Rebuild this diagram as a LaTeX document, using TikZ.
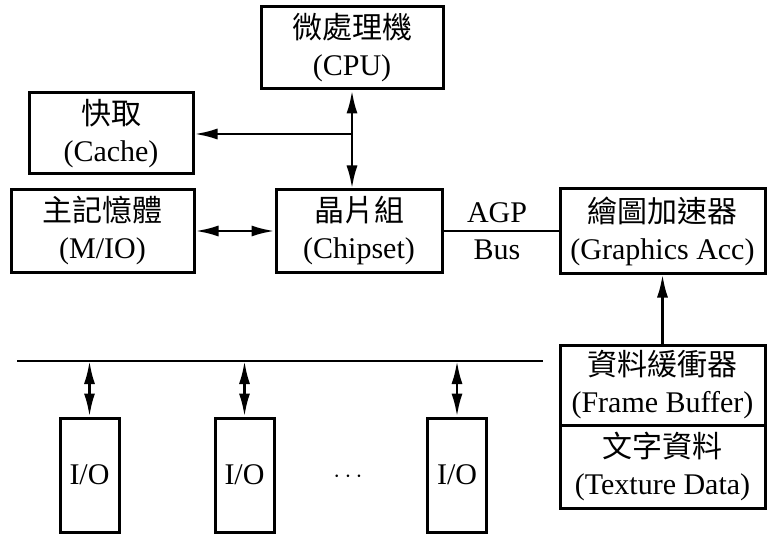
\documentclass[tikz,border=0pt]{standalone}
\usepackage{fontspec}
\setmainfont{Liberation Serif}
\newfontfamily\cjk{Noto Sans CJK TC}
\usetikzlibrary{arrows.meta}
\pgfdeclarelayer{edgelayer}
\pgfdeclarelayer{nodelayer}
\pgfsetlayers{edgelayer,nodelayer,main}
\tikzstyle{none}=[inner sep=0pt,align=center]
\tikzstyle{block}=[rectangle,fill=white,draw=black,line width=3pt,align=center,inner sep=0pt]
\tikzstyle{iobox}=[block,minimum width=59pt,minimum height=114pt]
\tikzstyle{link}=[draw=black,line width=2.6pt]
\tikzstyle{onearrow}=[link,-{Latex[length=23pt,width=11pt]}]
\tikzstyle{twoarrow}=[link,{Latex[length=23pt,width=11pt]}-{Latex[length=23pt,width=11pt]}]

\begin{document}
\begin{tikzpicture}[x=10pt, y=10pt, font=\fontsize{30}{37}\selectfont]
	\useasboundingbox (0, 0) rectangle (76.7, -53.4);
	\begin{pgfonlayer}{nodelayer}
		\node [style=block, minimum width=182pt, minimum height=82pt] (0) at (35.2, -4.8) {{\cjk 微處理機}\\(CPU)};
		\node [style=block, minimum width=164pt, minimum height=81pt] (1) at (11.1, -13.35) {{\cjk 快取}\\(Cache)};
		\node [style=block, minimum width=183pt, minimum height=82pt] (2) at (10.25, -23.1) {{\cjk 主記憶體}\\(M/IO)};
		\node [style=block, minimum width=166pt, minimum height=82pt] (3) at (35.9, -23.1) {{\cjk 晶片組}\\(Chipset)};
		\node [style=block, minimum width=205pt, minimum height=84pt] (4) at (66.25, -23.1) {{\cjk 繪圖加速器}\\(Graphics Acc)};
		\node [style=block, minimum width=205pt, minimum height=80pt] (5) at (66.25, -38.5) {{\cjk 資料緩衝器}\\(Frame Buffer)};
		\node [style=block, minimum width=205pt, minimum height=83pt] (6) at (66.25, -46.65) {{\cjk 文字資料}\\(Texture Data)};
		\node [style=iobox] (7) at (8.95, -47.5) {I/O};
		\node [style=iobox] (8) at (24.45, -47.5) {I/O};
		\node [style=iobox] (9) at (45.7, -47.5) {I/O};
		\node [style=none, font=\fontsize{28}{28}\selectfont] (10) at (34.8, -47.7) {$\cdots$};
		\node [style=none] (11) at (49.7, -23.15) {AGP\\Bus};
		\coordinate (12) at (35.2, -13.4);
		\coordinate (13) at (1.7, -36.1);
		\coordinate (14) at (54.3, -36.1);
	\end{pgfonlayer}
	\begin{pgfonlayer}{edgelayer}
		\draw [style=twoarrow] (0.south) to (0.south |- 3.north);
		\draw [style=onearrow] (12) to (12 -| 1.east);
		\draw [style=twoarrow] (2) to (3);
		\draw [style=link] (3) to (4);
		\draw [style=onearrow] (5) to (4);
		\draw [style=link] (13) to (14);
		\draw [style=twoarrow] (7.north |- 13) to (7.north);
		\draw [style=twoarrow] (8.north |- 13) to (8.north);
		\draw [style=twoarrow] (9.north |- 13) to (9.north);
	\end{pgfonlayer}
\end{tikzpicture}
\end{document}
